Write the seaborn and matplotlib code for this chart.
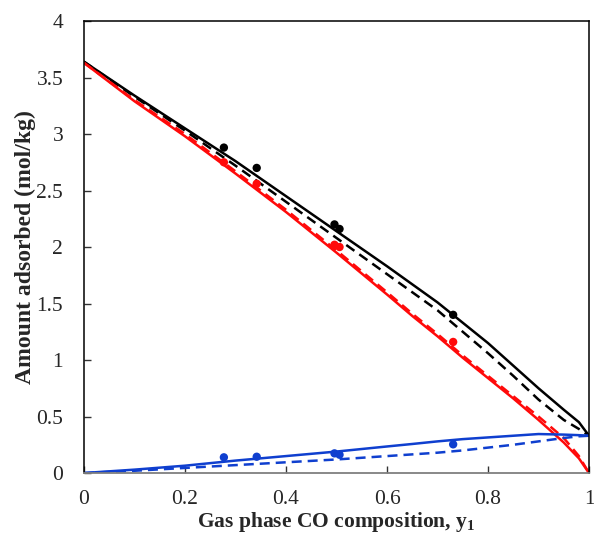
import numpy as np
import pandas as pd
import matplotlib
matplotlib.use("Agg")
import matplotlib.pyplot as plt
import seaborn as sns

# Model curves: gas phase CO mole fraction vs amount adsorbed
y1 = [0.0, 0.1, 0.2, 0.3, 0.4, 0.5, 0.6, 0.65, 0.7, 0.75, 0.8, 0.85, 0.9, 0.95, 0.98, 1.0]

total_solid = [3.64, 3.34, 3.05, 2.76, 2.45, 2.14, 1.83, 1.67, 1.51, 1.33, 1.15, 0.95, 0.75, 0.56, 0.45, 0.33]
total_dash  = [3.64, 3.33, 3.03, 2.72, 2.40, 2.08, 1.76, 1.60, 1.44, 1.25, 1.06, 0.86, 0.65, 0.47, 0.39, 0.33]
co2_solid   = [3.63, 3.29, 2.98, 2.65, 2.31, 1.95, 1.58, 1.39, 1.21, 1.02, 0.84, 0.66, 0.47, 0.27, 0.13, 0.0]
co2_dash    = [3.63, 3.30, 3.00, 2.67, 2.33, 1.97, 1.60, 1.41, 1.23, 1.04, 0.86, 0.68, 0.50, 0.31, 0.15, 0.0]
co_solid    = [0.0, 0.03, 0.065, 0.11, 0.15, 0.19, 0.235, 0.257, 0.28, 0.30, 0.315, 0.33, 0.345, 0.34, 0.335, 0.33]
co_dash     = [0.0, 0.02, 0.045, 0.07, 0.095, 0.12, 0.15, 0.165, 0.18, 0.20, 0.225, 0.25, 0.28, 0.31, 0.325, 0.33]

# Experimental points
y1_exp    = [0.277, 0.342, 0.496, 0.506, 0.731]
total_exp = [2.88, 2.70, 2.20, 2.16, 1.40]
co2_exp   = [2.75, 2.56, 2.02, 2.00, 1.16]
co_exp    = [0.139, 0.144, 0.174, 0.162, 0.254]

BLACK = "#000000"
RED = "#FF0A0A"
BLUE = "#0F3FCF"
DASH = (0, (4, 2.4))

sns.set_style("ticks")
plt.rcParams["font.family"] = ["Liberation Serif", "DejaVu Serif"]
plt.rcParams["mathtext.fontset"] = "custom"
plt.rcParams["mathtext.rm"] = "Liberation Serif"
plt.rcParams["mathtext.bf"] = "Liberation Serif:bold"

fig = plt.figure(figsize=(5.94, 5.39), dpi=100)
ax = fig.add_axes([0.1414, 0.1224, 0.8502, 0.8386])

curves = [
    (total_solid, BLACK, "-"), (total_dash, BLACK, DASH),
    (co2_solid, RED, "-"), (co2_dash, RED, DASH),
    (co_solid, BLUE, "-"), (co_dash, BLUE, DASH),
]
for vals, col, ls in curves:
    df = pd.DataFrame({"y1": y1, "q": vals})
    sns.lineplot(data=df, x="y1", y="q", ax=ax, color=col, linewidth=1.8,
                 linestyle=ls, sort=False, estimator=None)

for vals, col in [(total_exp, BLACK), (co2_exp, RED), (co_exp, BLUE)]:
    df = pd.DataFrame({"y1": y1_exp, "q": vals})
    sns.scatterplot(data=df, x="y1", y="q", ax=ax, color=col, s=36,
                    edgecolor="none", zorder=5)

ax.set_xlim(0, 1)
ax.set_ylim(0, 4)
xt = [0, 0.2, 0.4, 0.6, 0.8, 1]
yt = [0, 0.5, 1, 1.5, 2, 2.5, 3, 3.5, 4]
ax.set_xticks(xt)
ax.set_xticklabels(["0", "0.2", "0.4", "0.6", "0.8", "1"])
ax.set_yticks(yt)
ax.set_yticklabels(["0", "0.5", "1", "1.5", "2", "2.5", "3", "3.5", "4"])
ax.tick_params(direction="in", length=5, width=1, labelsize=15.5, color="#333333")
ax.tick_params(axis="x", pad=12)
ax.tick_params(axis="y", pad=15)

for side in ["left", "top", "right"]:
    ax.spines[side].set_color("#000000")
    ax.spines[side].set_linewidth(1.1)
ax.spines["bottom"].set_color("#7f7f7f")
ax.spines["bottom"].set_linewidth(1.3)

ax.set_xlabel(r"Gas phase CO composition, y$_{\mathbf{1}}$", fontsize=15.5,
              fontweight="bold", labelpad=1)
ax.set_ylabel("Amount adsorbed (mol/kg)", fontsize=17, fontweight="bold", labelpad=0)

fig.savefig("out.png", dpi=100)
